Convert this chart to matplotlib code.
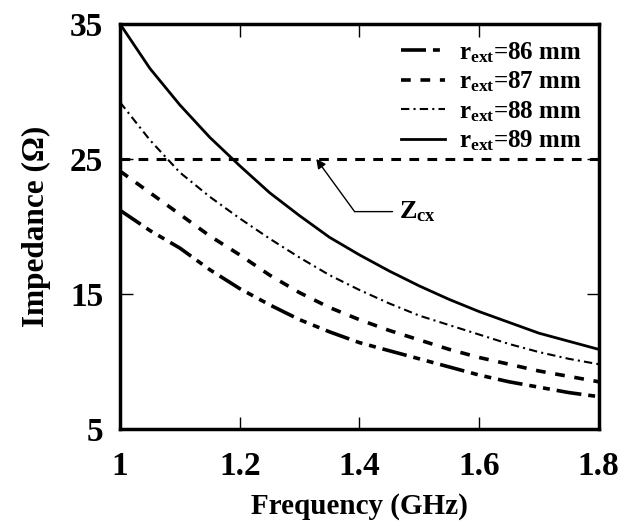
import matplotlib
matplotlib.use("Agg")
import matplotlib.pyplot as plt

plt.rcParams['font.family'] = ['Liberation Serif', 'DejaVu Serif']
plt.rcParams['font.weight'] = 'bold'
plt.rcParams['mathtext.fontset'] = 'custom'
plt.rcParams['mathtext.rm'] = 'Liberation Serif:bold'
plt.rcParams['mathtext.bf'] = 'Liberation Serif:bold'
plt.rcParams['mathtext.it'] = 'Liberation Serif:bold'
plt.rcParams['lines.scale_dashes'] = False

freq = [1.0, 1.05, 1.1, 1.15, 1.2, 1.25, 1.3, 1.35, 1.4,
        1.45, 1.5, 1.55, 1.6, 1.65, 1.7, 1.75, 1.8]
z86 = [21.2, 19.7, 18.4, 16.8, 15.4, 14.2, 13.1, 12.2, 11.4,
       10.8, 10.2, 9.6, 9.0, 8.5, 8.1, 7.7, 7.4]
z87 = [24.1, 22.5, 20.9, 19.3, 17.9, 16.4, 15.1, 14.0, 13.1,
       12.3, 11.6, 10.9, 10.3, 9.8, 9.3, 8.9, 8.5]
z88 = [29.2, 26.4, 24.0, 22.2, 20.6, 19.1, 17.7, 16.4, 15.3,
       14.3, 13.4, 12.7, 12.0, 11.3, 10.7, 10.2, 9.8]
z89 = [35.0, 31.7, 29.0, 26.6, 24.5, 22.5, 20.8, 19.2, 17.9,
       16.7, 15.6, 14.6, 13.7, 12.9, 12.1, 11.5, 10.9]
zcx = 25
labels = [r'r$_{\mathbf{ext}}$=86 mm', r'r$_{\mathbf{ext}}$=87 mm',
          r'r$_{\mathbf{ext}}$=88 mm', r'r$_{\mathbf{ext}}$=89 mm']
xticks = [1, 1.2, 1.4, 1.6, 1.8]
xticklabels = ['1', '1.2', '1.4', '1.6', '1.8']
yticks = [5, 15, 25, 35]

fig = plt.figure(figsize=(6.25, 5.31), dpi=100)
ax = fig.add_axes([0.192, 0.192, 0.766, 0.763])

l86, = ax.plot(freq, z86, color='black', lw=2.6, dashes=(18, 5, 5, 5, 5, 5), label=labels[0])
l87, = ax.plot(freq, z87, color='black', lw=2.6, dashes=(7, 7), label=labels[1])
l88, = ax.plot(freq, z88, color='black', lw=1.5, dashes=(6, 3, 1.5, 3), label=labels[2])
l89, = ax.plot(freq, z89, color='black', lw=2.0, label=labels[3])
ax.axhline(zcx, color='black', lw=2.2, dashes=(7, 6))

# callout: label, horizontal leader, then arrow to the Zcx line
ax.annotate(r'Z$_{\mathbf{cx}}$', xy=(1.392, 21.1), xytext=(1.467, 21.1),
            fontsize=19, va='center', ha='left',
            arrowprops=dict(arrowstyle='-', color='black', lw=1.0,
                            shrinkA=3, shrinkB=0))
ax.annotate('', xy=(1.328, zcx), xytext=(1.392, 21.1),
            arrowprops=dict(arrowstyle='-|>', color='black', lw=1.0,
                            shrinkA=0, shrinkB=0, mutation_scale=14))

ax.set_xlim(1, 1.8)
ax.set_ylim(5, 35)
ax.set_xticks(xticks)
ax.set_xticklabels(xticklabels)
ax.set_yticks(yticks)
ax.tick_params(direction='in', length=9, width=1, top=True, right=True,
               labelsize=24)
ax.tick_params(axis='x', pad=16)
ax.tick_params(axis='y', pad=12)
for s in ax.spines.values():
    s.set_linewidth(2.5)

ax.set_xlabel('Frequency (GHz)', fontsize=21, fontweight='bold', labelpad=8)
ax.set_ylabel('Impedance (Ω)', fontsize=22.5, fontweight='bold', labelpad=14)

leg = ax.legend(handles=[l86, l87, l88, l89], loc='upper right',
                bbox_to_anchor=(0.985, 0.985), frameon=False, fontsize=18,
                handlelength=1.75, handletextpad=0.55, labelspacing=0.2,
                borderaxespad=0.0)

fig.savefig('out.png', dpi=100)
